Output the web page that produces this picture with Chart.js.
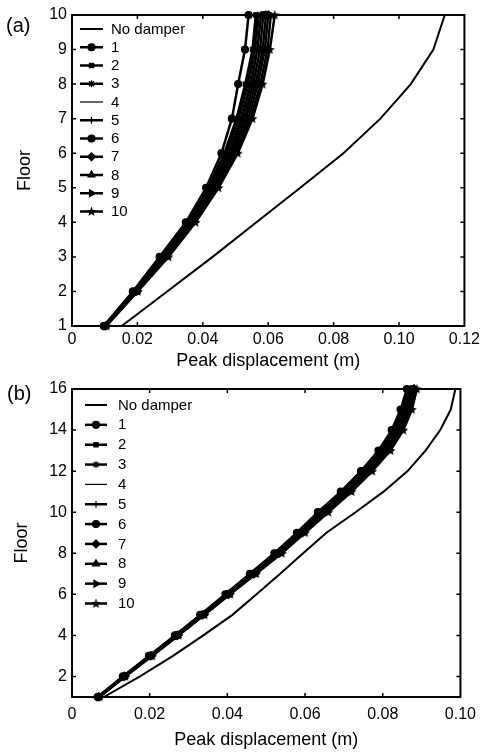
<!DOCTYPE html>
<html><head><meta charset="utf-8">
<script src="https://cdn.jsdelivr.net/npm/chart.js@4.4.0/dist/chart.umd.min.js"></script>
<style>
html,body{margin:0;padding:0;background:#fff;}
#wrap{position:relative;width:484px;height:753px;overflow:hidden;background:#fff;}
canvas{position:absolute;left:0;}
.pl{position:absolute;font-family:"Liberation Sans",Arial,sans-serif;font-size:20px;color:#000;line-height:1;}
</style></head><body>
<div id="wrap">
<canvas id="ca" width="484" height="372" style="top:0"></canvas>
<canvas id="cb" width="484" height="381" style="top:372px"></canvas>
<div class="pl" style="left:6px;top:15px">(a)</div>
<div class="pl" style="left:7px;top:383px">(b)</div>
</div>
<script>
// ---------- DATA ----------
const seriesLabels = ['No damper','1','2','3','4','5','6','7','8','9','10'];

// (a) 10-storey
const floorsA = [1,2,3,4,5,6,7,8,9,10];
const xTicksA = [0,0.02,0.04,0.06,0.08,0.10,0.12];
const yTicksA = [1,2,3,4,5,6,7,8,9,10];
const noDamperA = [0.0152,0.0291,0.0430,0.0564,0.0698,0.0830,0.0943,0.1036,0.1105,0.1140];
const A1  = [0.0097,0.0186,0.0268,0.0348,0.0410,0.0457,0.0489,0.0508,0.0529,0.0540];
const A2  = [0.0098,0.0188,0.0271,0.0351,0.0416,0.0466,0.0503,0.0530,0.0552,0.0562];
const A3  = [0.0099,0.0190,0.0274,0.0354,0.0420,0.0471,0.0509,0.0537,0.0558,0.0568];
const A4  = [0.0100,0.0192,0.0277,0.0357,0.0424,0.0476,0.0514,0.0542,0.0562,0.0573];
const A5  = [0.0100,0.0193,0.0279,0.0360,0.0427,0.0480,0.0519,0.0547,0.0567,0.0578];
const A6  = [0.0101,0.0195,0.0282,0.0363,0.0431,0.0486,0.0526,0.0554,0.0575,0.0585];
const A7  = [0.0102,0.0196,0.0284,0.0366,0.0435,0.0491,0.0532,0.0561,0.0583,0.0593];
const A8  = [0.0103,0.0198,0.0287,0.0370,0.0440,0.0497,0.0539,0.0568,0.0590,0.0600];
const A9  = [0.0104,0.0199,0.0291,0.0374,0.0444,0.0502,0.0546,0.0576,0.0598,0.0608];
const A10 = [0.0105,0.0201,0.0295,0.0378,0.0448,0.0507,0.0552,0.0583,0.0605,0.0620];

// (b) 16-storey
const floorsB = [1,2,3,4,5,6,7,8,9,10,11,12,13,14,15,16];
const xTicksB = [0,0.02,0.04,0.06,0.08,0.10];
const yTicksB = [2,4,6,8,10,12,14,16];
const noDamperB = [0.0082,0.0175,0.0260,0.0338,0.0413,0.0475,0.0536,0.0595,0.0655,0.0730,0.0802,0.0864,0.0910,0.0948,0.0975,0.0987];
const B1  = [0.0066,0.0131,0.0198,0.0265,0.0330,0.0395,0.0458,0.0521,0.0579,0.0633,0.0692,0.0744,0.0789,0.0823,0.0846,0.0862];
const B2  = [0.0067,0.0132,0.0199,0.0266,0.0332,0.0396,0.0460,0.0523,0.0581,0.0636,0.0695,0.0747,0.0792,0.0826,0.0849,0.0864];
const B3  = [0.0067,0.0133,0.0200,0.0267,0.0333,0.0398,0.0462,0.0525,0.0584,0.0639,0.0698,0.0750,0.0795,0.0829,0.0852,0.0867];
const B4  = [0.0068,0.0133,0.0201,0.0268,0.0334,0.0399,0.0464,0.0527,0.0586,0.0642,0.0701,0.0753,0.0799,0.0832,0.0855,0.0870];
const B5  = [0.0068,0.0134,0.0202,0.0269,0.0335,0.0400,0.0465,0.0529,0.0588,0.0644,0.0704,0.0756,0.0802,0.0835,0.0858,0.0873];
const B6  = [0.0068,0.0134,0.0202,0.0270,0.0336,0.0401,0.0467,0.0531,0.0590,0.0647,0.0707,0.0759,0.0805,0.0838,0.0861,0.0876];
const B7  = [0.0069,0.0135,0.0203,0.0271,0.0337,0.0403,0.0468,0.0533,0.0593,0.0650,0.0710,0.0762,0.0808,0.0841,0.0864,0.0879];
const B8  = [0.0069,0.0135,0.0204,0.0272,0.0338,0.0404,0.0470,0.0535,0.0595,0.0653,0.0713,0.0766,0.0812,0.0845,0.0868,0.0882];
const B9  = [0.0070,0.0136,0.0205,0.0273,0.0340,0.0405,0.0472,0.0538,0.0597,0.0656,0.0716,0.0769,0.0816,0.0849,0.0871,0.0885];
const B10 = [0.0070,0.0137,0.0206,0.0274,0.0341,0.0407,0.0474,0.0540,0.0600,0.0660,0.0720,0.0773,0.0820,0.0853,0.0875,0.0888];

const dampedA = [A1,A2,A3,A4,A5,A6,A7,A8,A9,A10];
const dampedB = [B1,B2,B3,B4,B5,B6,B7,B8,B9,B10];

// ---------- STYLE ----------
const FONT = '"Liberation Sans", Arial, Helvetica, sans-serif';
function makeStar(){
  const c = document.createElement('canvas'); c.width = 11; c.height = 11;
  const g = c.getContext('2d'); g.fillStyle = '#000'; g.beginPath();
  for (let i=0;i<10;i++){
    const r = i%2===0 ? 5.2 : 2.2; const a = -Math.PI/2 + i*Math.PI/5;
    const px = 5.5 + r*Math.cos(a), py = 5.8 + r*Math.sin(a);
    i===0 ? g.moveTo(px,py) : g.lineTo(px,py);
  }
  g.closePath(); g.fill(); return c;
}
const starImg = makeStar();
const markerStyles = ['circle','rect','star',false,'cross','circle','rectRot','triangle','triangle',starImg];
const markerRot    = [0,0,0,0,0,0,0,0,90,0];
const markerRad    = [3.5,3,3.5,0,3.5,3.5,4,4,4,4];
const lineWidths   = [2.5,2.5,2.5,1.2,2.5,2.5,2.5,2.5,2.5,2.5];

function pts(xs, ys){ return xs.map((v,i)=>({x:v, y:ys[i]})); }

function buildDatasets(noDamp, damped, floors){
  const ds = [{
    label: seriesLabels[0], data: pts(noDamp, floors), showLine:true,
    borderColor:'#000', backgroundColor:'#000', borderWidth:2, pointRadius:0, pointStyle:false, clip:false
  }];
  damped.forEach((arr,i)=>{
    ds.push({
      label: seriesLabels[i+1], data: pts(arr, floors), showLine:true,
      borderColor:'#000', backgroundColor:'#000', borderWidth: lineWidths[i],
      pointStyle: markerStyles[i], pointRadius: markerRad[i], pointRotation: markerRot[i],
      pointBorderWidth:1.2, pointBorderColor:'#000', pointBackgroundColor:'#000', clip:false
    });
  });
  return ds;
}

function drawMarker(ctx, style, r, rot, x, y){
  if (!style || !r) return;
  ctx.save(); ctx.fillStyle='#000'; ctx.strokeStyle='#000'; ctx.lineWidth=1.2;
  if (Chart.helpers && Chart.helpers.drawPoint){
    Chart.helpers.drawPoint(ctx,{pointStyle:style, radius:r, rotation:rot, borderWidth:1.2}, x, y);
  } else {
    ctx.beginPath(); ctx.arc(x,y,r,0,Math.PI*2); ctx.fill();
  }
  ctx.restore();
}

const innerLegend = {
  id:'innerLegend',
  afterDraw(chart, args, o){
    const ctx = chart.ctx; ctx.save();
    ctx.font = o.size + 'px ' + FONT; ctx.textBaseline='middle'; ctx.textAlign='left';
    chart.data.datasets.forEach((ds,i)=>{
      const y = o.y0 + i*o.dy;
      ctx.strokeStyle='#000'; ctx.lineWidth = ds.borderWidth;
      ctx.beginPath(); ctx.moveTo(o.x0,y); ctx.lineTo(o.x1,y); ctx.stroke();
      drawMarker(ctx, ds.pointStyle, ds.pointRadius, ds.pointRotation||0, (o.x0+o.x1)/2, y);
      ctx.fillStyle='#000'; ctx.fillText(ds.label, o.xt, y+0.5);
    });
    ctx.restore();
  }
};

const boxTicks = {
  id:'boxTicks',
  afterDraw(chart){
    const {ctx, chartArea:{left,right,top,bottom}, scales:{x,y}} = chart;
    ctx.save(); ctx.strokeStyle='#000'; ctx.lineWidth=2;
    ctx.strokeRect(left,top,right-left,bottom-top);
    ctx.lineWidth=1.5; const L=4; ctx.beginPath();
    x.ticks.forEach(t=>{const p=x.getPixelForValue(t.value); if(p<=left+1||p>=right-1) return;
      ctx.moveTo(p,bottom); ctx.lineTo(p,bottom-L); ctx.moveTo(p,top); ctx.lineTo(p,top+L);});
    y.ticks.forEach(t=>{const p=y.getPixelForValue(t.value); if(p<=top+1||p>=bottom-1) return;
      ctx.moveTo(left,p); ctx.lineTo(left+L,p); ctx.moveTo(right,p); ctx.lineTo(right-L,p);});
    ctx.stroke(); ctx.restore();
  }
};

function makeChart(id, cfg){
  return new Chart(document.getElementById(id), {
    type:'scatter',
    data:{datasets: buildDatasets(cfg.noDamp, cfg.damped, cfg.floors)},
    plugins:[boxTicks, innerLegend],
    options:{
      responsive:false, animation:false, devicePixelRatio:1,
      layout:{padding:cfg.pad},
      plugins:{legend:{display:false}, tooltip:{enabled:false}, innerLegend:cfg.legend},
      scales:{
        x:{type:'linear', min:cfg.xMin, max:cfg.xMax,
          grid:{display:false, drawTicks:false}, border:{display:false},
          afterBuildTicks: s=>{ s.ticks = cfg.xTicks.map(v=>({value:v})); },
          ticks:{padding:cfg.xPad, color:'#000', font:{family:FONT,size:16},
            callback:v=> v===0 ? '0' : Number(v).toFixed(2)},
          title:{display:true, text:'Peak displacement (m)', color:'#000', font:{family:FONT,size:18}, padding:0},
          afterFit: s=>{ s.height = cfg.xH; }
        },
        y:{type:'linear', min:cfg.yMin, max:cfg.yMax,
          grid:{display:false, drawTicks:false}, border:{display:false},
          afterBuildTicks: s=>{ s.ticks = cfg.yTicks.map(v=>({value:v})); },
          ticks:{padding:5, color:'#000', font:{family:FONT,size:16}},
          title:{display:true, text:'Floor', color:'#000', font:{family:FONT,size:18}, padding:0},
          afterFit: s=>{ s.width = cfg.yW; }
        }
      }
    }
  });
}

makeChart('ca', {
  noDamp:noDamperA, damped:dampedA, floors:floorsA,
  xMin:0, xMax:0.12, yMin:1, yMax:10, xTicks:xTicksA, yTicks:yTicksA,
  pad:{left:14, top:15, right:16, bottom:0}, xH:46, yW:58, xPad:4,
  legend:{x0:80, x1:103, xt:111, y0:29, dy:18.25, size:15}
});
makeChart('cb', {
  noDamp:noDamperB, damped:dampedB, floors:floorsB,
  xMin:0, xMax:0.10, yMin:1, yMax:16, xTicks:xTicksB, yTicks:yTicksB,
  pad:{left:11, top:17, right:18, bottom:2}, xH:54, yW:61, xPad:8,
  legend:{x0:85, x1:107, xt:118, y0:33, dy:19.85, size:15}
});
</script>
</body></html>
